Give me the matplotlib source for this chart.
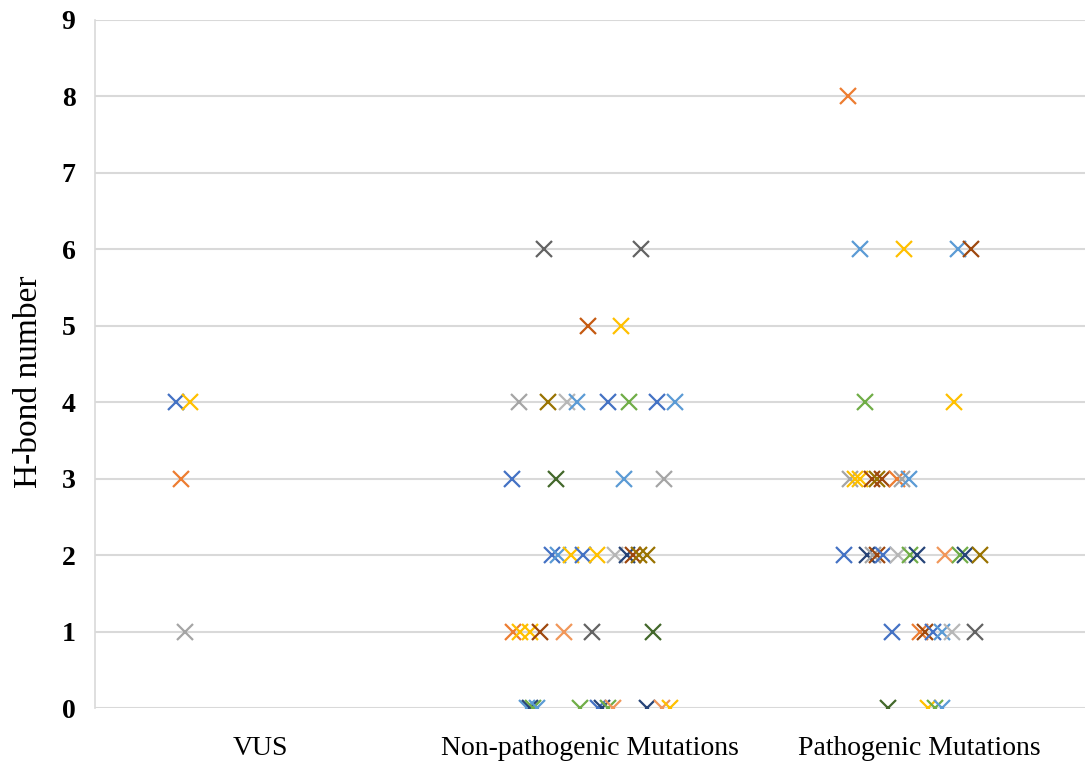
import numpy as np
import matplotlib
matplotlib.use('Agg')
import matplotlib.pyplot as plt

# Categorias del eje X
categorias = ['VUS', 'Non-pathogenic Mutations', 'Pathogenic Mutations']

# Paleta estilo Excel
pal = {
    'B': '#4472C4', 'O': '#ED7D31', 'G': '#A5A5A5', 'Y': '#FFC000',
    'LB': '#5B9BD5', 'GR': '#70AD47', 'DB': '#264478', 'DO': '#9E480E',
    'DG': '#636363', 'DY': '#997300', 'DGR': '#43682B', 'LO': '#F1975A',
    'LG': '#B7B7B7', 'RO': '#C55A11',
}

# VUS
vus_x = [0.745, 0.788, 0.761, 0.773]
vus_y = [4, 4, 3, 1]
vus_c = ['B', 'Y', 'O', 'G']

# Mutaciones no patogenicas
np_x = [1.861, 2.155,
        1.994, 2.094,
        1.785, 1.873, 1.930, 1.961, 2.055, 2.118, 2.203, 2.258,
        1.764, 1.897, 2.103, 2.224,
        1.885, 1.903, 1.942, 1.979, 2.021, 2.076, 2.112, 2.130, 2.148, 2.173,
        1.767, 1.788, 1.818, 1.848, 1.921, 2.006, 2.191,
        1.809, 1.818, 1.827, 1.839, 1.970, 2.024, 2.036, 2.055, 2.070, 2.173, 2.218, 2.242]
np_y = [6, 6,
        5, 5,
        4, 4, 4, 4, 4, 4, 4, 4,
        3, 3, 3, 3,
        2, 2, 2, 2, 2, 2, 2, 2, 2, 2,
        1, 1, 1, 1, 1, 1, 1,
        0, 0, 0, 0, 0, 0, 0, 0, 0, 0, 0, 0]
np_c = ['DG', 'DG',
        'RO', 'Y',
        'G', 'DY', 'LG', 'LB', 'B', 'GR', 'B', 'LB',
        'B', 'DGR', 'LB', 'G',
        'B', 'LB', 'Y', 'B', 'Y', 'LG', 'DB', 'DO', 'DY', 'DY',
        'O', 'Y', 'Y', 'DO', 'LO', 'DG', 'DGR',
        'LB', 'DB', 'GR', 'LB', 'GR', 'B', 'DB', 'GR', 'LO', 'DB', 'LO', 'Y']

# Mutaciones patogenicas
p_x = [2.782,
       2.818, 2.952, 3.115, 3.155,
       2.833, 3.103,
       2.788, 2.803, 2.818, 2.855, 2.870, 2.885, 2.930, 2.945, 2.967,
       2.770, 2.839, 2.858, 2.870, 2.888, 2.933, 2.970, 2.991, 3.076, 3.121, 3.136, 3.182,
       2.915, 3.000, 3.015, 3.039, 3.067, 3.097, 3.167,
       2.903, 3.024, 3.045, 3.067]
p_y = [8,
       6, 6, 6, 6,
       4, 4,
       3, 3, 3, 3, 3, 3, 3, 3, 3,
       2, 2, 2, 2, 2, 2, 2, 2, 2, 2, 2, 2,
       1, 1, 1, 1, 1, 1, 1,
       0, 0, 0, 0]
p_c = ['O',
       'LB', 'Y', 'LB', 'DO',
       'GR', 'Y',
       'G', 'Y', 'Y', 'DO', 'DY', 'DO', 'O', 'G', 'LB',
       'B', 'DB', 'G', 'DO', 'B', 'LG', 'GR', 'DB', 'LO', 'GR', 'DB', 'DY',
       'B', 'O', 'DO', 'B', 'LB', 'LG', 'DG',
       'DGR', 'Y', 'GR', 'LB']

plt.rcParams['font.family'] = ['Liberation Serif', 'DejaVu Serif']

fig = plt.figure(figsize=(10.88, 7.65), dpi=100)
ax = fig.add_axes([0.0873, 0.0745, 0.9097, 0.8995])

for xs, ys, cs in [(vus_x, vus_y, vus_c), (np_x, np_y, np_c), (p_x, p_y, p_c)]:
    for x, y, c in zip(xs, ys, cs):
        ax.plot(x, y, marker='x', linestyle='none', color=pal[c],
                markersize=12, markeredgewidth=1.6, zorder=3)

ax.set_xlim(0.5, 3.5)
ax.set_ylim(0, 9)
ax.set_yticks(range(0, 10))
ax.set_yticklabels([str(i) for i in range(0, 10)], fontsize=20, fontweight='bold')
ax.set_xticks([1, 2, 3])
ax.set_xticklabels(categorias, fontsize=20)
ax.tick_params(axis='both', length=0)
ax.tick_params(axis='y', pad=14)
ax.tick_params(axis='x', pad=20)
ax.set_ylabel('H-bond number', fontsize=24)
ax.yaxis.set_label_coords(-0.052, 0.474)

ax.grid(axis='y', color='#D9D9D9', linewidth=1.5, zorder=0)
ax.set_axisbelow(True)
for s in ['top', 'right', 'bottom']:
    ax.spines[s].set_visible(False)
ax.spines['left'].set_color('#D9D9D9')
ax.spines['left'].set_linewidth(1.2)

fig.savefig('out.png', dpi=100)
